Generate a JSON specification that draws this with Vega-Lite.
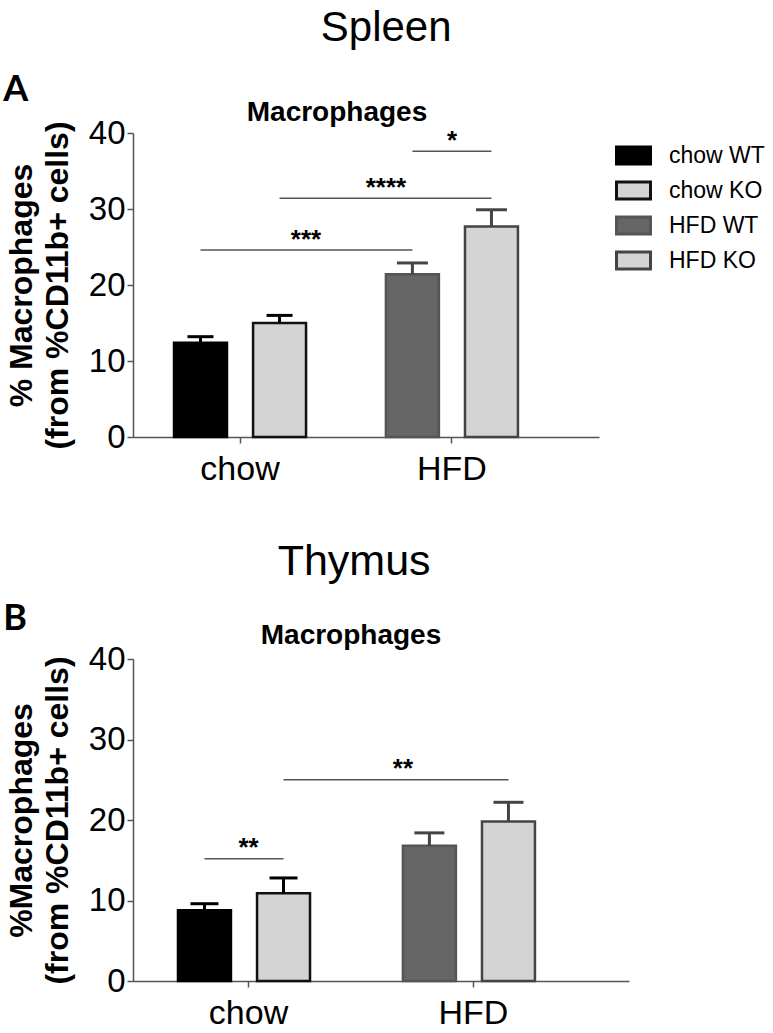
{
  "$schema": "https://vega.github.io/schema/vega-lite/v6.json",
  "padding": {"left": 3, "top": 7, "right": 0, "bottom": 0},
  "config": {
    "view": {"stroke": null},
    "font": "Liberation Sans",
    "axis": {"domainColor": "#555555", "domainWidth": 1.5, "tickColor": "#555555", "tickWidth": 1.5, "tickSize": 6, "labelColor": "#000000", "labelFont": "Liberation Sans", "labelFontSize": 33, "grid": false, "titleFont": "Liberation Sans", "titleFontWeight": "bold", "titleFontSize": 32, "titleColor": "#000000"},
    "legend": {"symbolType": "M-1,-0.5H1V0.5H-1Z", "symbolSize": 1156, "symbolStrokeWidth": 3, "symbolOpacity": 1, "labelFont": "Liberation Sans", "labelFontSize": 23, "labelColor": "#000000", "labelOffset": 17, "rowPadding": 2, "offset": 12, "padding": 4},
    "title": {"color": "#000000", "font": "Liberation Sans"}
  },
  "datasets": {
    "barsA": [
      {"diet": "chow", "geno": "WT", "group": "chow WT", "mean": 12.4, "upper": 13.2},
      {"diet": "chow", "geno": "KO", "group": "chow KO", "mean": 15.0, "upper": 16.0},
      {"diet": "HFD", "geno": "WT", "group": "HFD WT", "mean": 21.4, "upper": 22.9},
      {"diet": "HFD", "geno": "KO", "group": "HFD KO", "mean": 27.7, "upper": 29.9}
    ],
    "sigA": [
      {"cmp": "c1", "diet": "chow", "geno": "WT", "level": 24.6},
      {"cmp": "c1", "diet": "HFD", "geno": "WT", "level": 24.6},
      {"cmp": "c2", "diet": "chow", "geno": "KO", "level": 31.4},
      {"cmp": "c2", "diet": "HFD", "geno": "KO", "level": 31.4},
      {"cmp": "c3", "diet": "HFD", "geno": "WT", "level": 37.6},
      {"cmp": "c3", "diet": "HFD", "geno": "KO", "level": 37.6}
    ],
    "starsA": [
      {"label": "***", "diet": "chow", "at": "end", "y": 24.9},
      {"label": "****", "diet": "HFD", "at": "start", "y": 31.7},
      {"label": "*", "diet": "HFD", "at": "mid", "y": 37.9}
    ],
    "barsB": [
      {"diet": "chow", "geno": "WT", "group": "chow WT", "mean": 8.8, "upper": 9.6},
      {"diet": "chow", "geno": "KO", "group": "chow KO", "mean": 10.9, "upper": 12.8},
      {"diet": "HFD", "geno": "WT", "group": "HFD WT", "mean": 16.8, "upper": 18.4},
      {"diet": "HFD", "geno": "KO", "group": "HFD KO", "mean": 19.8, "upper": 22.2}
    ],
    "sigB": [
      {"cmp": "c1", "diet": "chow", "geno": "WT", "level": 15.2},
      {"cmp": "c1", "diet": "chow", "geno": "KO", "level": 15.2},
      {"cmp": "c2", "diet": "chow", "geno": "KO", "level": 25.0},
      {"cmp": "c2", "diet": "HFD", "geno": "KO", "level": 25.0}
    ],
    "starsB": [
      {"label": "**", "diet": "chow", "at": "mid", "y": 15.5},
      {"label": "**", "diet": "HFD", "at": "start", "y": 25.3}
    ]
  },
  "resolve": {"scale": {"fill": "independent", "stroke": "independent"}},
  "spacing": 55,
  "vconcat": [
    {
      "title": {"text": "Spleen", "fontSize": 42, "fontWeight": "normal", "anchor": "middle", "offset": 22},
      "resolve": {"scale": {"fill": "independent", "stroke": "independent"}},
      "vconcat": [
        {
          "title": {"text": "A", "font": "Lato", "fontSize": 36, "fontWeight": "bold", "anchor": "start", "offset": -10, "dx": -2},
          "resolve": {"scale": {"fill": "independent", "stroke": "independent"}},
          "vconcat": [
            {
              "title": {"text": "Macrophages", "fontSize": 28, "fontWeight": "bold", "anchor": "middle", "frame": "group", "dx": -29, "offset": -10},
              "width": 466,
              "height": 304,
              "layer": [
                {
                  "data": {"name": "barsA"},
                  "mark": {"type": "bar", "strokeWidth": 2.5, "strokeJoin": "miter"},
                  "encoding": {
                    "x": {"field": "diet", "type": "nominal", "sort": ["chow", "HFD"], "scale": {"paddingInner": 0.377, "paddingOuter": 0.288, "align": 0.336}, "axis": {"title": null, "labelAngle": 0, "labelPadding": 9, "labelFontSize": 34}},
                    "xOffset": {"field": "geno", "type": "nominal", "sort": ["WT", "KO"], "scale": {"paddingInner": 0.33, "paddingOuter": 0}},
                    "y": {"field": "mean", "type": "quantitative", "scale": {"domain": [0, 40], "nice": false}, "axis": {"values": [0, 10, 20, 30, 40], "title": ["% Macrophages", "(from %CD11b+ cells)"], "titleLineHeight": 36, "titlePadding": 14, "labelPadding": 2}},
                    "fill": {"field": "group", "type": "nominal", "scale": {"domain": ["chow WT", "chow KO", "HFD WT", "HFD KO"], "range": ["#000000", "#d4d4d4", "#666666", "#d4d4d4"]}, "legend": {"title": null, "labelFontSize": 23}},
                    "stroke": {"field": "group", "type": "nominal", "scale": {"domain": ["chow WT", "chow KO", "HFD WT", "HFD KO"], "range": ["#000000", "#111111", "#555555", "#444444"]}, "legend": {"title": null, "labelFontSize": 23}}
                  }
                },
                {
                  "data": {"name": "barsA"},
                  "transform": [{"filter": "datum.diet === 'chow'"}],
                  "mark": {"type": "rule", "strokeWidth": 3, "color": "#000000"},
                  "encoding": {
                    "x": {"field": "diet", "type": "nominal", "sort": ["chow", "HFD"]},
                    "xOffset": {"field": "geno", "type": "nominal", "sort": ["WT", "KO"]},
                    "y": {"field": "mean", "type": "quantitative"},
                    "y2": {"field": "upper"}
                  }
                },
                {
                  "data": {"name": "barsA"},
                  "transform": [{"filter": "datum.diet === 'HFD'"}],
                  "mark": {"type": "rule", "strokeWidth": 3, "color": "#444444"},
                  "encoding": {
                    "x": {"field": "diet", "type": "nominal", "sort": ["chow", "HFD"]},
                    "xOffset": {"field": "geno", "type": "nominal", "sort": ["WT", "KO"]},
                    "y": {"field": "mean", "type": "quantitative"},
                    "y2": {"field": "upper"}
                  }
                },
                {
                  "data": {"name": "barsA"},
                  "transform": [{"filter": "datum.diet === 'chow'"}],
                  "mark": {"type": "tick", "thickness": 3, "size": 26, "opacity": 1, "color": "#000000"},
                  "encoding": {
                    "x": {"field": "diet", "type": "nominal", "sort": ["chow", "HFD"]},
                    "xOffset": {"field": "geno", "type": "nominal", "sort": ["WT", "KO"]},
                    "y": {"field": "upper", "type": "quantitative"}
                  }
                },
                {
                  "data": {"name": "barsA"},
                  "transform": [{"filter": "datum.diet === 'HFD'"}],
                  "mark": {"type": "tick", "thickness": 3, "size": 31, "opacity": 1, "color": "#444444"},
                  "encoding": {
                    "x": {"field": "diet", "type": "nominal", "sort": ["chow", "HFD"]},
                    "xOffset": {"field": "geno", "type": "nominal", "sort": ["WT", "KO"]},
                    "y": {"field": "upper", "type": "quantitative"}
                  }
                },
                {
                  "data": {"name": "sigA"},
                  "mark": {"type": "line", "stroke": "#555555", "strokeWidth": 1.5},
                  "encoding": {
                    "x": {"field": "diet", "type": "nominal", "sort": ["chow", "HFD"]},
                    "xOffset": {"field": "geno", "type": "nominal", "sort": ["WT", "KO"]},
                    "y": {"field": "level", "type": "quantitative"},
                    "detail": {"field": "cmp", "type": "nominal"}
                  }
                },
                {
                  "data": {"name": "starsA"},
                  "transform": [{"filter": "datum.at === 'mid'"}],
                  "mark": {"type": "text", "fontSize": 26, "fontWeight": "bold", "baseline": "alphabetic", "color": "#000000"},
                  "encoding": {
                    "x": {"field": "diet", "type": "nominal", "sort": ["chow", "HFD"], "bandPosition": 0.5},
                    "y": {"field": "y", "type": "quantitative"},
                    "text": {"field": "label"}
                  }
                },
                {
                  "data": {"name": "starsA"},
                  "transform": [{"filter": "datum.at === 'start'"}],
                  "mark": {"type": "text", "fontSize": 26, "fontWeight": "bold", "baseline": "alphabetic", "color": "#000000"},
                  "encoding": {
                    "x": {"field": "diet", "type": "nominal", "sort": ["chow", "HFD"], "bandPosition": 0},
                    "y": {"field": "y", "type": "quantitative"},
                    "text": {"field": "label"}
                  }
                },
                {
                  "data": {"name": "starsA"},
                  "transform": [{"filter": "datum.at === 'end'"}],
                  "mark": {"type": "text", "fontSize": 26, "fontWeight": "bold", "baseline": "alphabetic", "color": "#000000"},
                  "encoding": {
                    "x": {"field": "diet", "type": "nominal", "sort": ["chow", "HFD"], "bandPosition": 1},
                    "y": {"field": "y", "type": "quantitative"},
                    "text": {"field": "label"}
                  }
                }
              ]
            }
          ]
        }
      ]
    },
    {
      "title": {"text": "Thymus", "fontSize": 43, "fontWeight": "normal", "anchor": "middle", "dx": 38, "offset": 17},
      "resolve": {"scale": {"fill": "independent", "stroke": "independent"}},
      "vconcat": [
        {
          "title": {"text": "B", "font": "Lato", "fontSize": 36, "fontWeight": "bold", "anchor": "start", "offset": -16, "dx": -2},
          "resolve": {"scale": {"fill": "independent", "stroke": "independent"}},
          "vconcat": [
            {
              "title": {"text": "Macrophages", "fontSize": 28, "fontWeight": "bold", "anchor": "middle", "frame": "group", "dx": -30, "offset": -7},
              "width": 496,
              "height": 322,
              "layer": [
                {
                  "data": {"name": "barsB"},
                  "mark": {"type": "bar", "strokeWidth": 2.5, "strokeJoin": "miter"},
                  "encoding": {
                    "x": {"field": "diet", "type": "nominal", "sort": ["chow", "HFD"], "scale": {"paddingInner": 0.373, "paddingOuter": 0.289, "align": 0.346}, "axis": {"title": null, "labelAngle": 0, "labelPadding": 9, "labelFontSize": 34}},
                    "xOffset": {"field": "geno", "type": "nominal", "sort": ["WT", "KO"], "scale": {"paddingInner": 0.33, "paddingOuter": 0}},
                    "y": {"field": "mean", "type": "quantitative", "scale": {"domain": [0, 40], "nice": false}, "axis": {"values": [0, 10, 20, 30, 40], "title": ["%Macrophages", "(from %CD11b+ cells)"], "titleLineHeight": 36, "titlePadding": 14, "labelPadding": 2}},
                    "fill": {"field": "group", "type": "nominal", "scale": {"domain": ["chow WT", "chow KO", "HFD WT", "HFD KO"], "range": ["#000000", "#d4d4d4", "#666666", "#d4d4d4"]}, "legend": null},
                    "stroke": {"field": "group", "type": "nominal", "scale": {"domain": ["chow WT", "chow KO", "HFD WT", "HFD KO"], "range": ["#000000", "#111111", "#555555", "#444444"]}, "legend": null}
                  }
                },
                {
                  "data": {"name": "barsB"},
                  "transform": [{"filter": "datum.diet === 'chow'"}],
                  "mark": {"type": "rule", "strokeWidth": 3, "color": "#000000"},
                  "encoding": {
                    "x": {"field": "diet", "type": "nominal", "sort": ["chow", "HFD"]},
                    "xOffset": {"field": "geno", "type": "nominal", "sort": ["WT", "KO"]},
                    "y": {"field": "mean", "type": "quantitative"},
                    "y2": {"field": "upper"}
                  }
                },
                {
                  "data": {"name": "barsB"},
                  "transform": [{"filter": "datum.diet === 'HFD'"}],
                  "mark": {"type": "rule", "strokeWidth": 3, "color": "#444444"},
                  "encoding": {
                    "x": {"field": "diet", "type": "nominal", "sort": ["chow", "HFD"]},
                    "xOffset": {"field": "geno", "type": "nominal", "sort": ["WT", "KO"]},
                    "y": {"field": "mean", "type": "quantitative"},
                    "y2": {"field": "upper"}
                  }
                },
                {
                  "data": {"name": "barsB"},
                  "transform": [{"filter": "datum.diet === 'chow'"}],
                  "mark": {"type": "tick", "thickness": 3, "size": 28, "opacity": 1, "color": "#000000"},
                  "encoding": {
                    "x": {"field": "diet", "type": "nominal", "sort": ["chow", "HFD"]},
                    "xOffset": {"field": "geno", "type": "nominal", "sort": ["WT", "KO"]},
                    "y": {"field": "upper", "type": "quantitative"}
                  }
                },
                {
                  "data": {"name": "barsB"},
                  "transform": [{"filter": "datum.diet === 'HFD'"}],
                  "mark": {"type": "tick", "thickness": 3, "size": 30, "opacity": 1, "color": "#444444"},
                  "encoding": {
                    "x": {"field": "diet", "type": "nominal", "sort": ["chow", "HFD"]},
                    "xOffset": {"field": "geno", "type": "nominal", "sort": ["WT", "KO"]},
                    "y": {"field": "upper", "type": "quantitative"}
                  }
                },
                {
                  "data": {"name": "sigB"},
                  "mark": {"type": "line", "stroke": "#555555", "strokeWidth": 1.5},
                  "encoding": {
                    "x": {"field": "diet", "type": "nominal", "sort": ["chow", "HFD"]},
                    "xOffset": {"field": "geno", "type": "nominal", "sort": ["WT", "KO"]},
                    "y": {"field": "level", "type": "quantitative"},
                    "detail": {"field": "cmp", "type": "nominal"}
                  }
                },
                {
                  "data": {"name": "starsB"},
                  "transform": [{"filter": "datum.at === 'mid'"}],
                  "mark": {"type": "text", "fontSize": 26, "fontWeight": "bold", "baseline": "alphabetic", "color": "#000000"},
                  "encoding": {
                    "x": {"field": "diet", "type": "nominal", "sort": ["chow", "HFD"], "bandPosition": 0.5},
                    "y": {"field": "y", "type": "quantitative"},
                    "text": {"field": "label"}
                  }
                },
                {
                  "data": {"name": "starsB"},
                  "transform": [{"filter": "datum.at === 'start'"}],
                  "mark": {"type": "text", "fontSize": 26, "fontWeight": "bold", "baseline": "alphabetic", "color": "#000000"},
                  "encoding": {
                    "x": {"field": "diet", "type": "nominal", "sort": ["chow", "HFD"], "bandPosition": 0},
                    "y": {"field": "y", "type": "quantitative"},
                    "text": {"field": "label"}
                  }
                }
              ]
            }
          ]
        }
      ]
    }
  ]
}
